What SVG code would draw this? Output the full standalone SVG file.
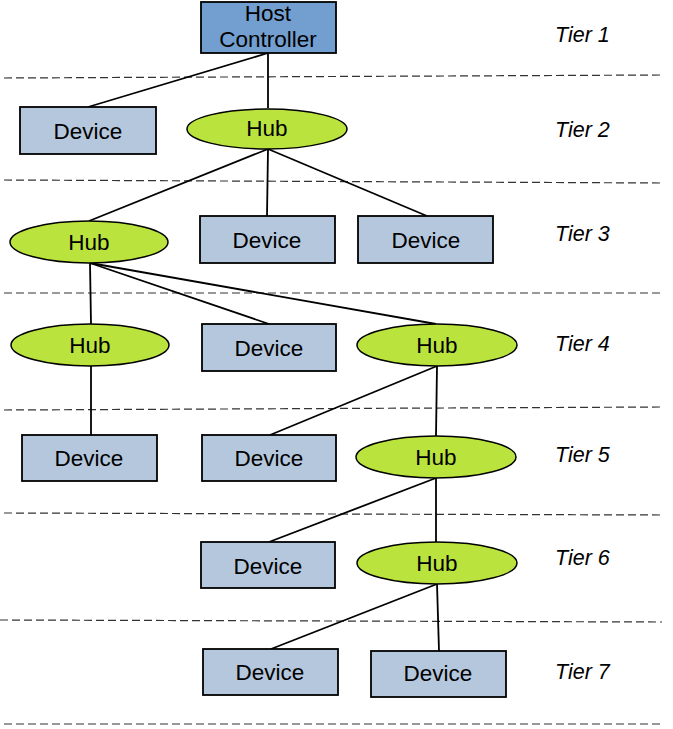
<svg xmlns="http://www.w3.org/2000/svg" width="673" height="729" viewBox="0 0 673 729">
<style>
.dev{fill:#b4c7dc;stroke:#000;stroke-width:1.8}
.host{fill:#729fcf;stroke:#000;stroke-width:1.8}
.hub{fill:#bbe33d;stroke:#000;stroke-width:1.5}
.t{font-family:"Liberation Sans",Arial,sans-serif;font-size:22.5px;fill:#000;text-anchor:middle}
.tier{font-family:"Liberation Sans",Arial,sans-serif;font-size:21.5px;font-style:italic;fill:#000}
.sep{stroke:#333;stroke-width:1.2;stroke-dasharray:8,4;fill:none}
.edge{stroke:#000;stroke-width:1.8;fill:none}
</style>
<rect width="673" height="729" fill="#fff"/>
<g id="separators">
<line class="sep" x1="4" y1="78" x2="662" y2="75"/>
<line class="sep" x1="4" y1="180" x2="662" y2="183"/>
<line class="sep" x1="4" y1="293" x2="662" y2="293"/>
<line class="sep" x1="4" y1="410" x2="662" y2="407"/>
<line class="sep" x1="4" y1="513" x2="662" y2="515"/>
<line class="sep" x1="0" y1="620" x2="662" y2="622"/>
<line class="sep" x1="4" y1="724" x2="662" y2="724"/>
</g>
<g id="tiers">
<text class="tier" x="555" y="42">Tier 1</text>
<text class="tier" x="555" y="137">Tier 2</text>
<text class="tier" x="555" y="241">Tier 3</text>
<text class="tier" x="555" y="351">Tier 4</text>
<text class="tier" x="555" y="462">Tier 5</text>
<text class="tier" x="555" y="565">Tier 6</text>
<text class="tier" x="555" y="679">Tier 7</text>
</g>
<g id="connectors">
<line class="edge" x1="268" y1="53" x2="88" y2="107"/>
<line class="edge" x1="268" y1="53" x2="268" y2="108"/>
<line class="edge" x1="268" y1="149" x2="89" y2="221"/>
<line class="edge" x1="268" y1="149" x2="267" y2="216"/>
<line class="edge" x1="268" y1="149" x2="427" y2="216"/>
<line class="edge" x1="90" y1="263" x2="91" y2="324"/>
<line class="edge" x1="90" y1="263" x2="269" y2="324"/>
<line class="edge" x1="90" y1="263" x2="436" y2="324"/>
<line class="edge" x1="91" y1="366" x2="91" y2="435"/>
<line class="edge" x1="437" y1="366" x2="270" y2="435"/>
<line class="edge" x1="437" y1="366" x2="436" y2="436"/>
<line class="edge" x1="436" y1="478" x2="269" y2="542"/>
<line class="edge" x1="436" y1="478" x2="436" y2="542"/>
<line class="edge" x1="437" y1="584" x2="271" y2="649"/>
<line class="edge" x1="437" y1="584" x2="439" y2="651"/>
</g>
<g id="host">
<rect class="host" x="201" y="2" width="135" height="51"/>
<text class="t" x="268" y="21">Host</text>
<text class="t" x="268" y="47">Controller</text>
</g>
<g id="dev2"><rect class="dev" x="20" y="107" width="136" height="47"/><text class="t" x="88" y="139">Device</text></g>
<g id="hub2"><ellipse class="hub" cx="267" cy="129" rx="80" ry="20"/><text class="t" x="267" y="136">Hub</text></g>
<g id="hub3"><ellipse class="hub" cx="89" cy="242" rx="79" ry="21"/><text class="t" x="89" y="250">Hub</text></g>
<g id="dev3a"><rect class="dev" x="200" y="216" width="135" height="47"/><text class="t" x="267" y="248">Device</text></g>
<g id="dev3b"><rect class="dev" x="358" y="216" width="135" height="47"/><text class="t" x="426" y="248">Device</text></g>
<g id="hub4a"><ellipse class="hub" cx="90" cy="345" rx="79" ry="21"/><text class="t" x="90" y="353">Hub</text></g>
<g id="dev4"><rect class="dev" x="202" y="324" width="134" height="47"/><text class="t" x="269" y="356">Device</text></g>
<g id="hub4b"><ellipse class="hub" cx="437" cy="345" rx="80" ry="21"/><text class="t" x="437" y="353">Hub</text></g>
<g id="dev5a"><rect class="dev" x="22" y="435" width="135" height="46"/><text class="t" x="89" y="466">Device</text></g>
<g id="dev5b"><rect class="dev" x="202" y="435" width="134" height="46"/><text class="t" x="269" y="466">Device</text></g>
<g id="hub5"><ellipse class="hub" cx="436" cy="457" rx="80" ry="21"/><text class="t" x="436" y="465">Hub</text></g>
<g id="dev6"><rect class="dev" x="201" y="542" width="134" height="46"/><text class="t" x="268" y="574">Device</text></g>
<g id="hub6"><ellipse class="hub" cx="437" cy="563" rx="80" ry="21"/><text class="t" x="437" y="571">Hub</text></g>
<g id="dev7a"><rect class="dev" x="203" y="649" width="135" height="46"/><text class="t" x="270" y="680">Device</text></g>
<g id="dev7b"><rect class="dev" x="371" y="651" width="135" height="46"/><text class="t" x="438" y="681">Device</text></g>
</svg>
